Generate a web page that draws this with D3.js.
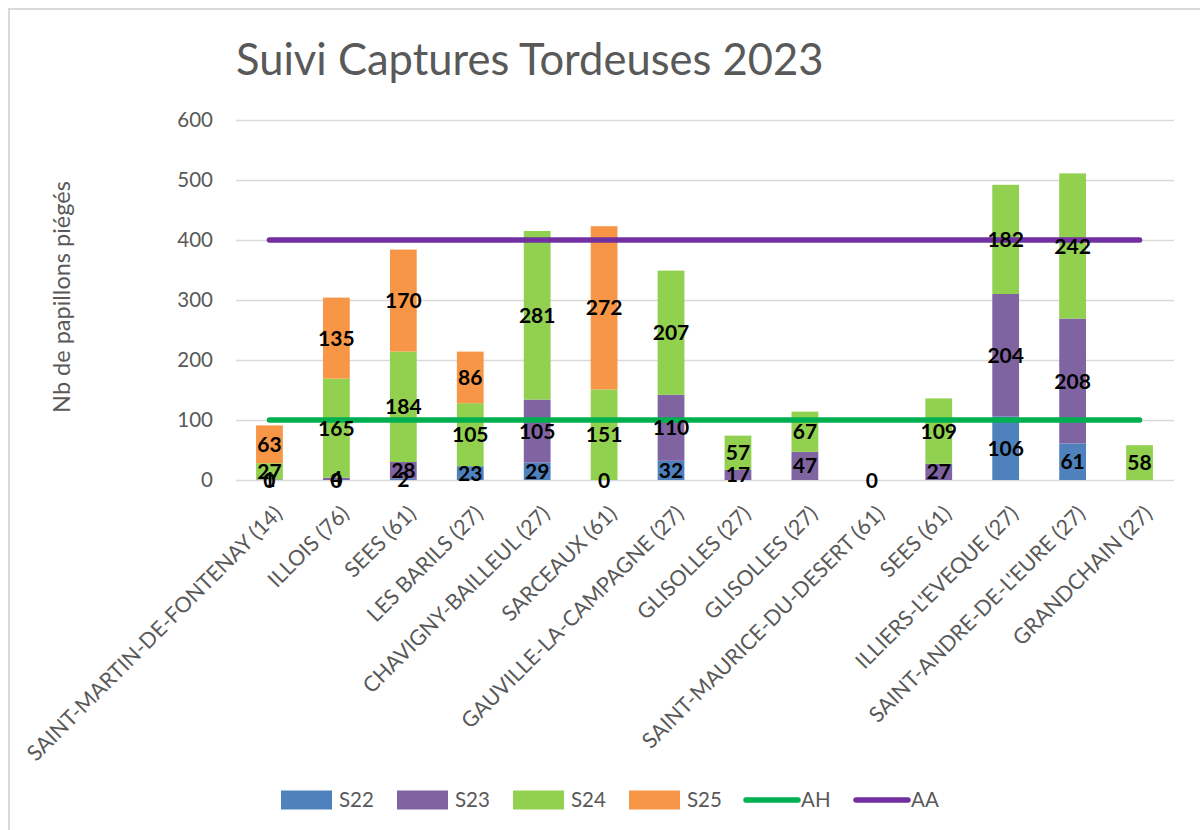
<!DOCTYPE html>
<html>
<head>
<meta charset="utf-8">
<script src="https://cdn.jsdelivr.net/npm/d3@7"></script>
<style>
body { margin: 0; background: #fff; }
text { font-family: Lato, "Open Sans", sans-serif; }
</style>
</head>
<body>
<svg id="chart" width="1200" height="830"></svg>
<script>
// categories and series
var communes = ["SAINT-MARTIN-DE-FONTENAY (14)", "ILLOIS (76)", "SEES (61)", "LES BARILS (27)",
  "CHAVIGNY-BAILLEUL (27)", "SARCEAUX (61)", "GAUVILLE-LA-CAMPAGNE (27)", "GLISOLLES (27)",
  "GLISOLLES (27)", "SAINT-MAURICE-DU-DESERT (61)", "SEES (61)", "ILLIERS-L'EVEQUE (27)",
  "SAINT-ANDRE-DE-L'EURE (27)", "GRANDCHAIN (27)"];
var s22 = [0, 0, 2, 23, 29, 0, 32, null, null, 0, null, 106, 61, null];
var s23 = [1, 4, 28, null, 105, null, 110, 17, 47, null, 27, 204, 208, null];
var s24 = [27, 165, 184, 105, 281, 151, 207, 57, 67, null, 109, 182, 242, 58];
var s25 = [63, 135, 170, 86, null, 272, null, null, null, null, null, null, null, null];
var ah = [100, 100, 100, 100, 100, 100, 100, 100, 100, 100, 100, 100, 100, 100];
var aa = [400, 400, 400, 400, 400, 400, 400, 400, 400, 400, 400, 400, 400, 400];
var yTicks = [0, 100, 200, 300, 400, 500, 600];

var barKeys = ["S22", "S23", "S24", "S25"];
var barCols = {"S22": "#4F81BD", "S23": "#8064A2", "S24": "#92D050", "S25": "#F79646"};
var lineKeys = ["AH", "AA"];
var lineCols = {"AH": "#00B050", "AA": "#7030A0"};

var rows = communes.map(function(c, i) {
  return {i: i, name: c, S22: s22[i], S23: s23[i], S24: s24[i], S25: s25[i], AH: ah[i], AA: aa[i]};
});

var svg = d3.select("#chart");
var grey = "#595959";

// outer frame of the chart (runs off the right and bottom of the shot)
svg.append("rect")
  .attr("x", 9).attr("y", 9).attr("width", 1220).attr("height", 860)
  .attr("fill", "none").attr("stroke", "#D9D9D9").attr("stroke-width", 2);

var x = d3.scaleBand()
  .domain(d3.range(communes.length))
  .range([236, 1173])
  .paddingInner(0.6).paddingOuter(0.3);
var y = d3.scaleLinear().domain([0, 600]).range([480, 120]);

svg.append("text")
  .attr("x", 236).attr("y", 75)
  .attr("font-size", 43.5).attr("fill", grey)
  .text("Suivi Captures Tordeuses 2023");

// gridlines + y labels
var yAxis = d3.axisLeft(y).tickValues(yTicks).tickSize(-(1174 - 236)).tickPadding(23);
var ga = svg.append("g").attr("transform", "translate(236,0)").call(yAxis);
ga.select(".domain").remove();
ga.selectAll(".tick line").attr("stroke", "#D9D9D9").attr("stroke-width", 1.5);
ga.selectAll(".tick text").attr("fill", grey).attr("font-size", 20.5)
  .attr("font-family", "Lato, sans-serif");

svg.append("text")
  .attr("transform", "translate(70,297) rotate(-90)")
  .attr("text-anchor", "middle").attr("font-size", 23.5).attr("fill", grey)
  .text("Nb de papillons piégés");

// stacked bars
var stack = d3.stack().keys(barKeys).value(function(d, k) { return d[k] || 0; });
var series = stack(rows);

var layers = svg.append("g").selectAll("g").data(series).enter().append("g")
  .attr("fill", function(d) { return barCols[d.key]; });
layers.selectAll("rect").data(function(d) { return d; }).enter().append("rect")
  .attr("x", function(d) { return x(d.data.i); })
  .attr("width", x.bandwidth())
  .attr("y", function(d) { return y(d[1]); })
  .attr("height", function(d) { return y(d[0]) - y(d[1]); });

// threshold lines
var cx = function(i) { return x(i) + x.bandwidth() / 2; };
lineKeys.forEach(function(k) {
  var line = d3.line().x(function(d) { return cx(d.i); }).y(function(d) { return y(d[k]); });
  svg.append("path").datum(rows)
    .attr("d", line).attr("fill", "none")
    .attr("stroke", lineCols[k]).attr("stroke-width", 5.5)
    .attr("stroke-linecap", "round");
});

// data labels in the middle of each segment
series.forEach(function(s) {
  svg.append("g").selectAll("text")
    .data(s.filter(function(d) { return d.data[s.key] !== null; }))
    .enter().append("text")
    .attr("x", function(d) { return cx(d.data.i); })
    .attr("y", function(d) { return y((d[0] + d[1]) / 2); })
    .attr("dy", "0.36em")
    .attr("text-anchor", "middle")
    .attr("font-size", 21).attr("font-weight", "bold").attr("fill", "#000")
    .text(function(d) { return d.data[s.key]; });
});

// category labels, turned 45 degrees
svg.append("g").selectAll("text").data(rows).enter().append("text")
  .attr("transform", function(d) { return "translate(" + (cx(d.i) + 14) + ",515) rotate(-45)"; })
  .attr("text-anchor", "end")
  .attr("font-size", 21.5).attr("fill", grey)
  .text(function(d) { return d.name; });

// legend
var legendItems = [
  {k: "S22", x: 281, type: "bar"}, {k: "S23", x: 397, type: "bar"},
  {k: "S24", x: 513, type: "bar"}, {k: "S25", x: 629, type: "bar"},
  {k: "AH", x: 745, type: "line"}, {k: "AA", x: 855, type: "line"}
];
var lg = svg.append("g").selectAll("g").data(legendItems).enter().append("g")
  .attr("transform", function(d) { return "translate(" + d.x + ",800)"; });
lg.filter(function(d) { return d.type === "bar"; }).append("rect")
  .attr("x", 0).attr("y", -9.5).attr("width", 51).attr("height", 19)
  .attr("fill", function(d) { return barCols[d.k]; });
lg.filter(function(d) { return d.type === "line"; }).append("line")
  .attr("x1", 1).attr("x2", 53).attr("y1", 0).attr("y2", 0)
  .attr("stroke", function(d) { return lineCols[d.k]; })
  .attr("stroke-width", 5.5).attr("stroke-linecap", "round");
lg.append("text")
  .attr("x", function(d) { return d.type === "bar" ? 58 : 56; })
  .attr("dy", "0.36em")
  .attr("font-size", 20.5).attr("fill", grey)
  .text(function(d) { return d.k; });
</script>
</body>
</html>
